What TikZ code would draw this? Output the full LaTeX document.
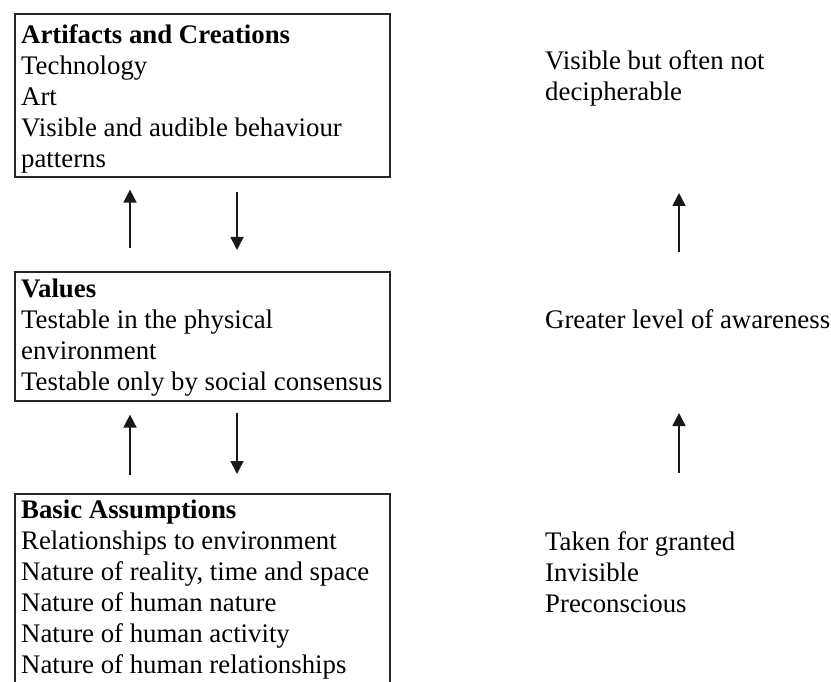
\documentclass[tikz,border=0pt]{standalone}
\usepackage{fontspec}
\setmainfont{Liberation Serif}
\usetikzlibrary{arrows.meta}
\tikzset{
  boxframe/.style={draw=black!85, line width=1.6pt, inner sep=0pt, anchor=north west, minimum width=375pt},
  boxtext/.style={inner sep=0pt, anchor=north west, align=left, font=\fontsize{26.8}{31}\selectfont},
  sidetext/.style={inner sep=0pt, anchor=north west, align=left, font=\fontsize{26.8}{31}\selectfont},
  arr/.style={line width=1.6pt, draw=black!90, -{Triangle[width=13pt,length=13pt]}},
}
\begin{document}
\begin{tikzpicture}[x=1pt,y=-1pt]
\useasboundingbox (0,0) rectangle (831,682);
\clip (0,0) rectangle (831,682);
\fill[white] (0,0) rectangle (831,682);
% boxes
\node[boxframe, minimum height=163pt] (b1) at (14,13) {};
\node[boxframe, minimum height=129pt] (b2) at (14,271) {};
\node[boxframe, minimum height=220pt] (b3) at (14,493) {};
% box texts
\node[boxtext] (t1) at (21,{43-21.7}) {\strut\textbf{Artifacts and Creations}\\Technology\\Art\\Visible and audible behaviour\\patterns};
\node[boxtext] (t2) at (21,{297-21.7}) {\strut\textbf{Values}\\Testable in the physical\\environment\\Testable only by social consensus};
\node[boxtext] (t3) at (21,{518-21.7}) {\strut\textbf{Basic Assumptions}\\Relationships to environment\\Nature of reality, time and space\\Nature of human nature\\Nature of human activity\\Nature of human relationships};
% side texts
\node[sidetext] (s1) at (545,{69-21.7}) {\strut Visible but often not\\decipherable};
\node[sidetext] (s2) at (545,{328-21.7}) {\strut Greater level of awareness};
\node[sidetext] (s3) at (545,{550-21.7}) {\strut Taken for granted\\Invisible\\Preconscious};
% arrow columns
\coordinate (ux) at (130,0);
\coordinate (dx) at (237,0);
\coordinate (rx) at (679,0);
% arrows between boxes
\draw[arr, shorten <=23pt, shorten >=12pt] (b2.north -| ux) -- (b1.south -| ux);
\draw[arr, shorten <=14pt, shorten >=21pt] (b1.south -| dx) -- (b2.north -| dx);
\draw[arr, shorten <=18pt, shorten >=13pt] (b3.north -| ux) -- (b2.south -| ux);
\draw[arr, shorten <=11pt, shorten >=19pt] (b2.south -| dx) -- (b3.north -| dx);
% side arrows
\coordinate (r1a) at (679,252);
\coordinate (r1b) at (679,193);
\coordinate (r2a) at (679,473);
\coordinate (r2b) at (679,413);
\draw[arr] (r1a) -- (r1b);
\draw[arr] (r2a) -- (r2b);
\end{tikzpicture}
\end{document}
